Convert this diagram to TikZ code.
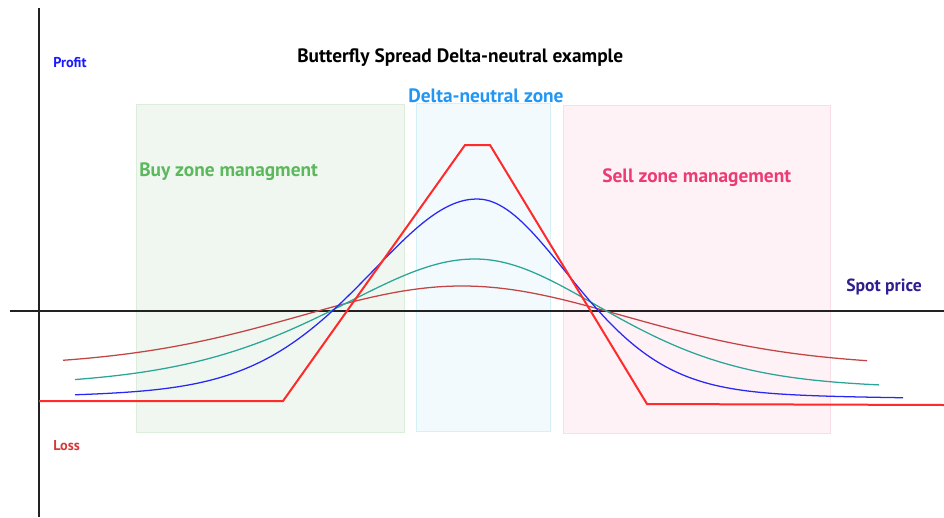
\documentclass[tikz,border=0pt]{standalone}
\usepackage{fontspec}
\setmainfont{PT Sans}
\usepackage{xcolor}
\usepackage{tikz}
\usetikzlibrary{calc, positioning}
\definecolor{AxisBlack}{HTML}{222222}
\definecolor{PayoffRed}{HTML}{FF2A2A}
\definecolor{CurveBlue}{HTML}{2828F2}
\definecolor{CurveTeal}{HTML}{2AA598}
\definecolor{CurveBrick}{HTML}{C24545}
\definecolor{BuyGreen}{HTML}{5CB85C}
\definecolor{BuyFill}{HTML}{F0F7F0}
\definecolor{BuyEdge}{HTML}{DDEDDC}
\definecolor{NeutralBlue}{HTML}{2196F3}
\definecolor{NeutralFill}{HTML}{F2FAFD}
\definecolor{NeutralEdge}{HTML}{D6F0F7}
\definecolor{SellPink}{HTML}{EC3A72}
\definecolor{SellFill}{HTML}{FFF2F6}
\definecolor{SellEdge}{HTML}{FBDDE7}
\definecolor{SpotIndigo}{HTML}{2E1F8F}
\definecolor{ProfitBlue}{HTML}{1A1AFF}
\definecolor{LossRed}{HTML}{D43A3A}

\begin{document}
\begin{tikzpicture}[x=0.75pt, y=-0.75pt,
        declare function={pv(\d,\h,\e)=\e/(1+(\d/\h)*(\d/\h))+(1-\e)*exp(-0.6931*(\d/\h)*(\d/\h));},
        zone/.style={line width=0.6pt},
        axisline/.style={draw=AxisBlack, line width=1.5pt},
        curve/.style={line width=0.95pt, samples=70, smooth},
        lbl/.style={anchor=base west, inner sep=0pt, font=\fontsize{14.5}{17}\selectfont\bfseries},
        small/.style={anchor=base west, inner sep=0pt, font=\fontsize{10.7}{12}\selectfont\bfseries}]
        \useasboundingbox (0,0) rectangle (944,517);

        % Zone backgrounds
        \path[zone, fill=BuyFill, draw=BuyEdge]         (136,104) rectangle (404,432);
        \path[zone, fill=NeutralFill, draw=NeutralEdge] (416,103) rectangle (550,431);
        \path[zone, fill=SellFill, draw=SellEdge]       (563,105) rectangle (830,433);

        % Axes
        \coordinate (ytop) at (39,8);
        \coordinate (ybot) at (39,517);
        \coordinate (xleft) at (10,311);
        \coordinate (xright) at (944,311);
        \draw[axisline] (ytop) -- (ybot);
        \draw[axisline] (xleft) -- (xright);

        % Curves (left and right halves)
        \draw[curve, CurveBrick]
            plot[domain=63:462] (\x, {368-82*pv(\x-462,202,0.2)})
            -- plot[domain=462:867] (\x, {368-82*pv(\x-462,202,0.2)});
        \draw[curve, CurveTeal]
            plot[domain=75:475] (\x, {392-133*pv(\x-475,175,0.5)})
            -- plot[domain=475:879] (\x, {392-133*pv(\x-475,158,0.35)});
        \draw[curve, CurveBlue]
            plot[domain=75:477] (\x, {401-202*pv(\x-477,133,0.3)})
            -- plot[domain=477:903] (\x, {401-202*pv(\x-477,112,0.25)});

        % Payoff
        \draw[PayoffRed, line width=1.5pt, line join=miter]
            (39,401) -- (283,401) -- (465,145) -- (490,145) -- (647,404) -- (944,405);

        % Labels
        \node[lbl, text=black]       (title)   at (297,62)  {Butterfly Spread Delta-neutral example};
        \node[lbl, text=NeutralBlue] (neutral) at (408,102) {Delta-neutral zone};
        \node[lbl, text=BuyGreen]    (buy)     at (139,176) {Buy zone managment};
        \node[lbl, text=SellPink]    (sell)    at (602,182) {Sell zone management};
        \node[lbl, text=SpotIndigo, font=\fontsize{13.2}{16}\selectfont\bfseries] (spot) at (846,291) {Spot price};
        \node[small, text=ProfitBlue] (profit) at (53,68)   {Profit};
        \node[small, text=LossRed]    (loss)   at (53,450)  {Loss};
      \end{tikzpicture}
\end{document}
